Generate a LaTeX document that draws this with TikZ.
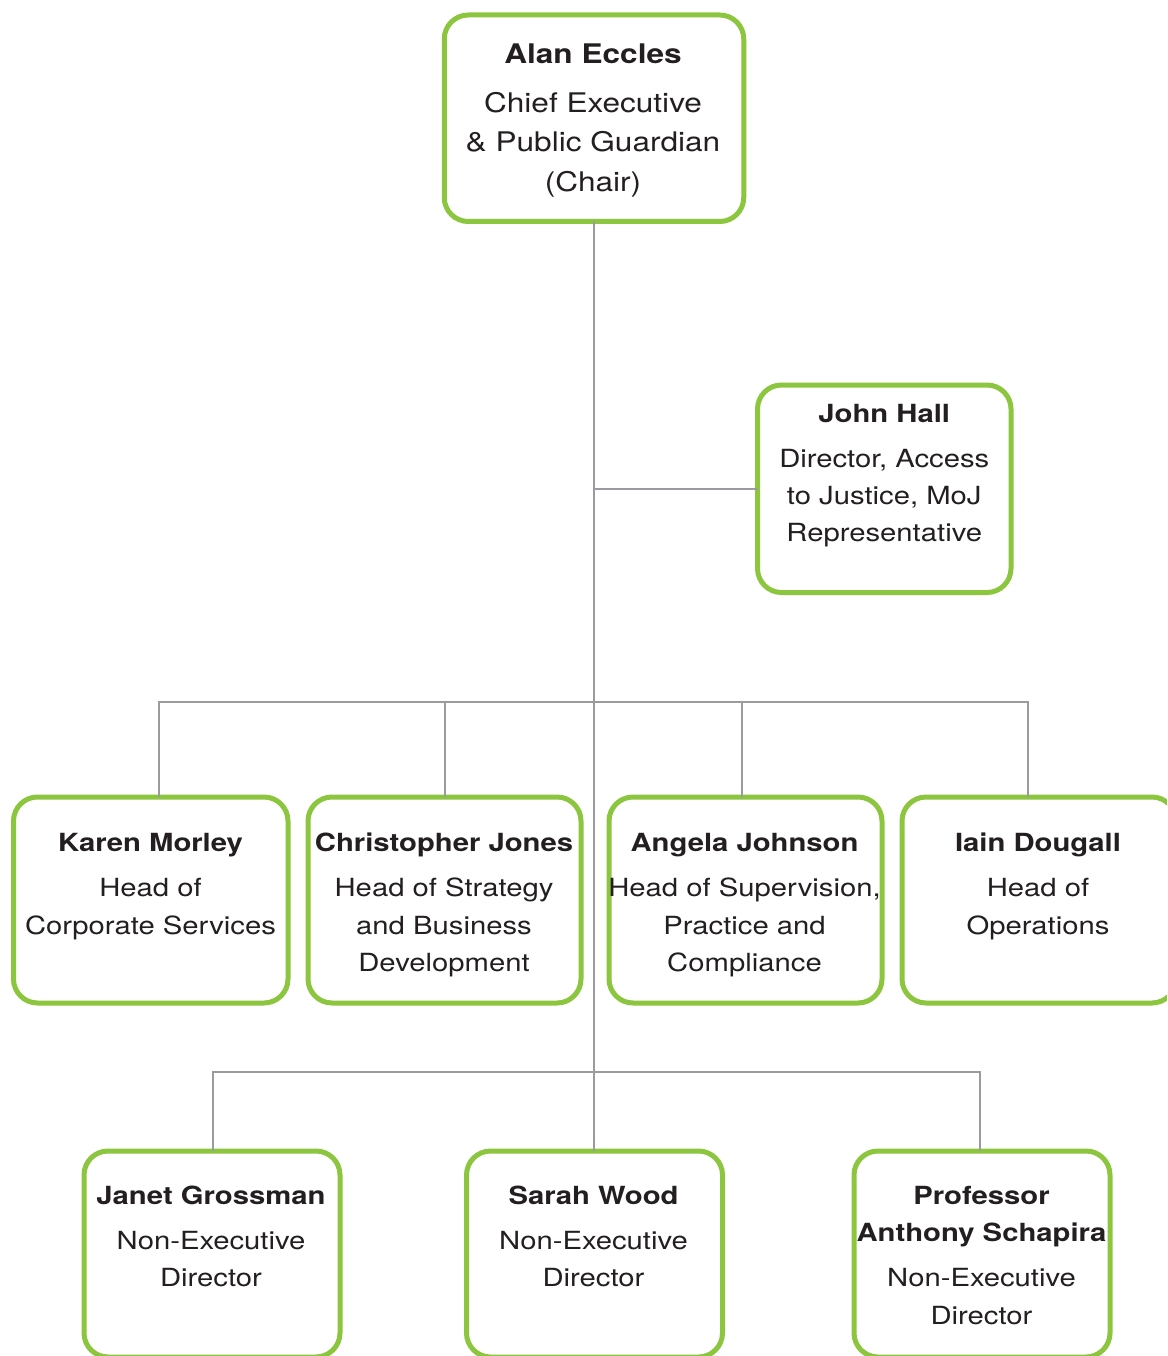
\documentclass[tikz,border=0pt]{standalone}
\usepackage{fontspec}
\setmainfont[FakeStretch=1.17]{TeX Gyre Heros}
\definecolor{boxgreen}{HTML}{8CC63F}
\definecolor{linegray}{HTML}{9B9B9F}
\definecolor{txt}{HTML}{231F20}
\tikzset{
  orgbox/.style={draw=boxgreen, line width=5pt, rounded corners=24pt, fill=white, inner sep=0pt, outer sep=0pt},
  conn/.style={draw=linegray, line width=2.5pt},
  nm/.style={font=\fontsize{25}{30}\selectfont\bfseries, text=txt, anchor=base, inner sep=0pt},
  bd/.style={font=\fontsize{25}{30}\selectfont, text=txt, anchor=base, inner sep=0pt},
  nmbig/.style={font=\fontsize{27}{32}\selectfont\bfseries, text=txt, anchor=base, inner sep=0pt},
  bdbig/.style={font=\fontsize{27}{32}\selectfont, text=txt, anchor=base, inner sep=0pt},
}
\begin{document}
\begin{tikzpicture}[x=1pt, y=-1pt]
\useasboundingbox (0,0) rectangle (1167,1356);
\clip (0,0) rectangle (1167,1356);

% connector coordinates
\coordinate (barL) at (159,702);
\coordinate (barCJ) at (445,702);
\coordinate (barAJ) at (742,702);
\coordinate (barR) at (1028,702);
\coordinate (lowL) at (213,1072);
\coordinate (lowR) at (980,1072);

% boxes
\node[orgbox, minimum width=299.5pt, minimum height=206.5pt] (ae) at (594,118.25) {};
\node[orgbox, minimum width=253.5pt, minimum height=207.5pt] (jh) at (884.25,488.75) {};
\node[orgbox, minimum width=274.5pt, minimum height=206pt] (km) at (150.75,900) {};
\node[orgbox, minimum width=273pt, minimum height=206pt] (cj) at (444.5,900) {};
\node[orgbox, minimum width=273pt, minimum height=206pt] (aj) at (745.5,900) {};
\node[orgbox, minimum width=274pt, minimum height=206pt] (id) at (1039,900) {};
\node[orgbox, minimum width=256pt, minimum height=206pt] (jg) at (212,1254) {};
\node[orgbox, minimum width=256pt, minimum height=206pt] (sw) at (594.5,1254) {};
\node[orgbox, minimum width=256pt, minimum height=206pt] (as) at (982,1254) {};

% connectors
\draw[conn] (ae.south) -- (ae.south |- sw.north);
\draw[conn] (jh.west) -- (jh.west -| ae.south);
\draw[conn] (barL |- km.north) -- (barL) -- (barR) -- (barR |- id.north);
\draw[conn] (barCJ) -- (barCJ |- cj.north);
\draw[conn] (barAJ) -- (barAJ |- aj.north);
\draw[conn] (lowL |- jg.north) -- (lowL) -- (lowR) -- (lowR |- as.north);

% texts: Alan Eccles
\node[nmbig] (aeN) at (593,64) {Alan Eccles};
\node[bdbig] (ae1) at (593,112.3) {Chief Executive};
\node[bdbig] (ae2) at (593,152) {\& Public Guardian};
\node[bdbig] (ae3) at (593,191.7) {(Chair)};

% John Hall
\node[nm] (jhN) at (884.25,422.3) {John Hall};
\node[bd] (jh1) at (884.25,467.7) {Director, Access};
\node[bd] (jh2) at (884.25,504.5) {to Justice, MoJ};
\node[bd] (jh3) at (884.25,541.5) {Representative};

% Karen Morley
\node[nm] (kmN) at (150.5,851.7) {Karen Morley};
\node[bd] (km1) at (150.5,896.7) {Head of};
\node[bd] (km2) at (150.5,934.2) {Corporate Services};

% Christopher Jones
\node[nm] (cjN) at (444,851.7) {Christopher Jones};
\node[bd] (cj1) at (444,896.7) {Head of Strategy};
\node[bd] (cj2) at (444,934.2) {and Business};
\node[bd] (cj3) at (444,971.7) {Development};

% Angela Johnson
\node[nm] (ajN) at (744.5,851.7) {Angela Johnson};
\node[bd] (aj1) at (744.5,896.7) {Head of Supervision,};
\node[bd] (aj2) at (744.5,934.2) {Practice and};
\node[bd] (aj3) at (744.5,971.7) {Compliance};

% Iain Dougall
\node[nm] (idN) at (1038,851.7) {Iain Dougall};
\node[bd] (id1) at (1038,896.7) {Head of};
\node[bd] (id2) at (1038,934.2) {Operations};

% Janet Grossman
\node[nm] (jgN) at (211,1204.3) {Janet Grossman};
\node[bd] (jg1) at (211,1249.3) {Non-Executive};
\node[bd] (jg2) at (211,1286.8) {Director};

% Sarah Wood
\node[nm] (swN) at (593.5,1204.3) {Sarah Wood};
\node[bd] (sw1) at (593.5,1249.3) {Non-Executive};
\node[bd] (sw2) at (593.5,1286.8) {Director};

% Anthony Schapira
\node[nm] (asN) at (981.5,1204.3) {Professor};
\node[nm] (asN2) at (981.5,1241.8) {Anthony Schapira};
\node[bd] (as1) at (981.5,1286.8) {Non-Executive};
\node[bd] (as2) at (981.5,1324.3) {Director};
\end{tikzpicture}
\end{document}
